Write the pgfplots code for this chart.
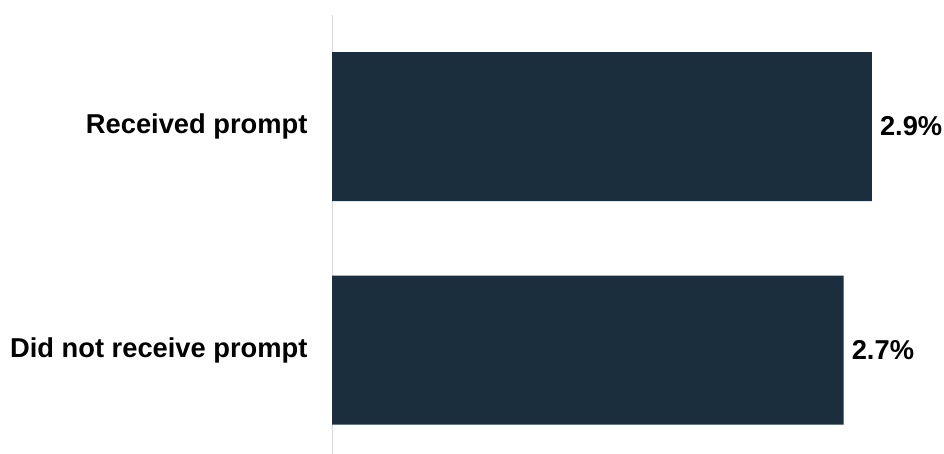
\documentclass[border=0pt]{standalone}
\usepackage{pgfplots}
\pgfplotsset{compat=1.18}
\usepackage{fontspec}
\setmainfont{Liberation Sans}
\definecolor{barc}{HTML}{1A2E3D}
\definecolor{axc}{HTML}{D9D9D9}
\begin{document}
\begin{tikzpicture}[x=1pt,y=1pt]
\useasboundingbox (0,0) rectangle (944,454);
\begin{axis}[
  at={(332pt,0pt)}, anchor=south west,
  scale only axis,
  width=600pt, height=439pt,
  xmin=0, xmax=3.19,
  ymin=-0.465, ymax=1.499,
  xbar, bar width=149pt,
  axis x line=none,
  axis y line*=left,
  y axis line style={draw=axc, line width=1pt},
  ytick={0,1},
  yticklabels={Did not receive prompt,Received prompt},
  major tick length=0pt,
  yticklabel style={font=\fontsize{27.3}{32}\selectfont\bfseries, xshift=-21pt},
  /pgf/number format/assume math mode=true,
  nodes near coords={\pgfmathprintnumber[fixed,fixed zerofill,precision=1]{\pgfplotspointmeta}\%},
  point meta=x,
  nodes near coords style={font=\fontsize{27.3}{32}\selectfont\bfseries, anchor=west, inner sep=0pt, xshift=8pt, text=black},
  clip=false,
]
\addplot[fill=barc, draw=none] coordinates {(2.72,0) (2.87,1)};
\end{axis}
\end{tikzpicture}
\end{document}
